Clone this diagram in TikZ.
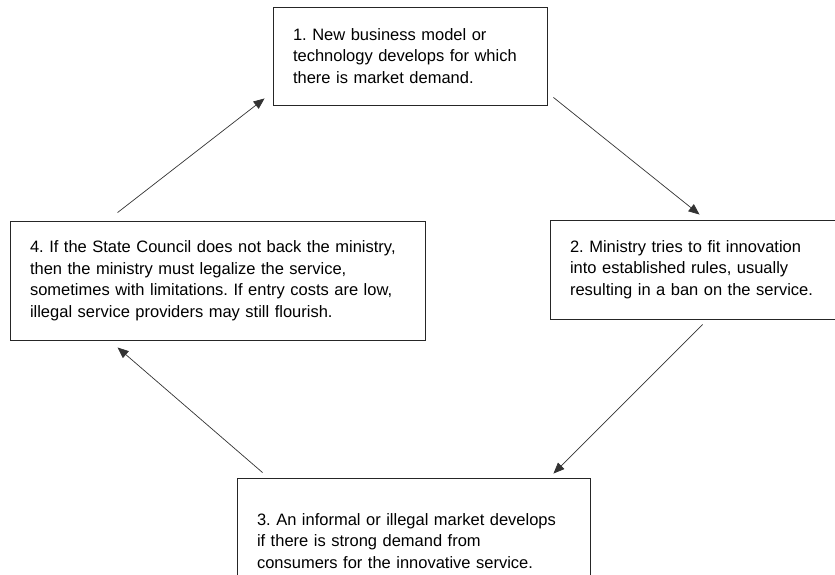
\documentclass[tikz,border=0pt]{standalone}
\usepackage{fontspec}
\setmainfont{Liberation Sans}
\usetikzlibrary{arrows.meta,calc}
\frenchspacing

\begin{document}
\begin{tikzpicture}[
    x=1pt, y=-1pt,
    stagebox/.style={draw=black!85, line width=0.9pt, align=left, anchor=center,
      inner xsep=20pt, inner ysep=0pt, font=\fontsize{16.5}{21.5}\selectfont},
    cyclearrow/.style={draw=black!80, line width=0.7pt,
      -{Triangle[length=11pt,width=9pt]}}
  ]

    % Page frame
    \useasboundingbox (0,0) rectangle (835,574);
    \clip (0,0) rectangle (835,574);

    % Stages of the cycle
    \node[stagebox, text width=234pt, minimum height=98pt] (one) at (410,56) {
      1. New business model or\\
      technology develops for which\\
      there is market demand.
    };

    \node[stagebox, text width=260pt, minimum height=99pt] (two) at (700,269.5) {
      2. Ministry tries to fit innovation\\
      into established rules, usually\\
      resulting in a ban on the service.
    };

    \node[stagebox, text width=313pt, minimum height=126pt] (three) at (413.5,541) {
      3. An informal or illegal market develops\\
      if there is strong demand from\\
      consumers for the innovative service.
    };

    \node[stagebox, text width=375pt, minimum height=119pt] (four) at (217.5,280.5) {
      4. If the State Council does not back the ministry,\\
      then the ministry must legalize the service,\\
      sometimes with limitations. If entry costs are low,\\
      illegal service providers may still flourish.
    };

    % Arrows between stages
    \draw[cyclearrow] ($(one.south east)+(6,-8)$) -- ($(two.north west)+(150,-5)$);
    \draw[cyclearrow] ($(two.south west)+(153,5)$) -- ($(three.north east)+(-37,-4)$);
    \draw[cyclearrow] ($(three.north west)+(26,-5)$) -- ($(four.south west)+(108,7)$);
    \draw[cyclearrow] ($(four.north west)+(108,-8)$) -- ($(one.south west)+(-8,-7)$);

  \end{tikzpicture}
\end{document}
